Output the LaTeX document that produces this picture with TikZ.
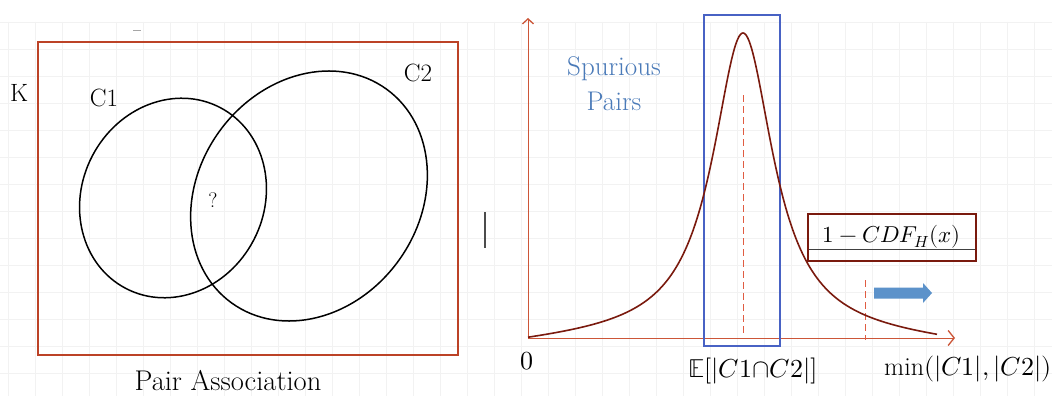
\documentclass[tikz,border=0pt]{standalone}
\usepackage{fontspec}
\usepackage{unicode-math}
\setmainfont{Latin Modern Roman}
\setmathfont{Latin Modern Math}
\usetikzlibrary{arrows.meta}
\definecolor{framered}{RGB}{188,66,38}
\definecolor{axisred}{RGB}{204,86,56}
\definecolor{curvered}{RGB}{122,26,14}
\definecolor{rectblue}{RGB}{72,98,196}
\definecolor{textblue}{RGB}{74,122,184}
\definecolor{arrowblue}{RGB}{92,146,202}
\definecolor{dashred}{RGB}{224,92,66}
\tikzset{
  lbl/.style={inner sep=0pt, font=\fontsize{25}{30}\selectfont, text=black},
  mlbl/.style={inner sep=0pt, font=\fontsize{26}{30}\selectfont, text=black},
  venn/.style={draw=black, line width=1.5pt},
  axisline/.style={draw=axisred, line width=1pt},
  guide/.style={draw=dashred, line width=0.95pt, dash pattern=on 7pt off 4pt},
  gridline/.style={draw=black!5, line width=0.6pt}
}
\begin{document}
\begin{tikzpicture}[x=1pt,y=-1pt]
\useasboundingbox (0,0) rectangle (1052,396);
\fill[white] (0,0) rectangle (1052,396);
% faint background grid
\foreach \i in {0,...,39} { \draw[gridline] ({8+27*\i},22) -- ({8+27*\i},396); }
\foreach \j in {0,...,13} { \draw[gridline] (0,{22+27*\j}) -- (1052,{22+27*\j}); }

% ---------- left panel ----------
\draw[framered, line width=1.6pt] (38,42) rectangle (458,355);
\draw[venn, rotate around={-27.5:(173,198)}] (173,198) ellipse [x radius=91pt, y radius=102pt];
\draw[venn, rotate around={-36:(309,196)}] (309,196) ellipse [x radius=110.5pt, y radius=132pt];
\node[lbl] (K) at (19,93) {K};
\node[lbl] (c1) at (104,98) {C1};
\node[lbl] (c2) at (418,73) {C2};
\node[inner sep=0pt, font=\fontsize{21}{24}\selectfont] (q) at (213,200) {?};
\node[lbl, font=\fontsize{28.5}{32}\selectfont] (pa) at (228,381) {Pair Association};
\coordinate (m1) at (133,30); \coordinate (m2) at (141,30);
\draw[black!35, line width=0.8pt] (m1) -- (m2);
\coordinate (b1) at (485,212); \coordinate (b2) at (485,248);
\draw[black!70, line width=1.4pt] (b1) -- (b2);

% ---------- right panel ----------
\coordinate (O) at (528,338);
\coordinate (ytip) at (528,18);
\coordinate (xtip) at (955,338);
\draw[axisline, -{Straight Barb[length=5pt, width=11pt, line width=1.3pt]}] (O) -- (ytip);
\draw[axisline, -{Straight Barb[length=6pt, width=15pt, line width=1.3pt]}] (O) -- (xtip);

\node[draw=rectblue, line width=1.5pt, minimum width=76pt, minimum height=331pt, inner sep=0pt] (win) at (742,180.5) {};

\coordinate (d1t) at (743,95); \coordinate (d1b) at (743,335);
\draw[guide] (d1t) -- (d1b);
\coordinate (d2t) at (865,280); \coordinate (d2b) at (865,340);
\draw[guide] (d2t) -- (d2b);

\draw[curvered, line width=1.6pt]
  plot[domain=528:743, samples=160, smooth] (\x, {338 - (305/(1+((\x-743)/37)^2) - 8*((\x-743)/215)^2)})
  -- plot[domain=743:937, samples=160, smooth] (\x, {338 - (305/(1+((\x-743)/37)^2) - 7*((\x-743)/194)^2)});

\node[inner sep=0pt, text=textblue, font=\fontsize{27}{35}\selectfont, align=center] (sp) at (614,84) {Spurious\\Pairs};

\node[draw=curvered, line width=2pt, minimum width=168pt, minimum height=47pt, inner sep=0pt] (cdfbox) at (892,237) {};
\coordinate (l1) at (809,249); \coordinate (l2) at (975,249);
\draw[black!75, line width=1pt] (l1) -- (l2);
\node[inner sep=0pt, anchor=base, font=\fontsize{23}{27}\selectfont] (cdf) at (891.5,242) {$1-CDF_H(x)$};

\fill[arrowblue] (874,287.5) -- (923,287.5) -- (923,283) -- (932,293) -- (923,303) -- (923,298.5) -- (874,298.5) -- cycle;

\node[mlbl] (zero) at (527,361) {$0$};
\node[mlbl] (exp) at (753,371) {$\mathbb{E}[|C1{\cap}C2|]$};
\node[mlbl] (minl) at (968,369) {$\min(|C1|,|C2|)$};
\end{tikzpicture}
\end{document}
